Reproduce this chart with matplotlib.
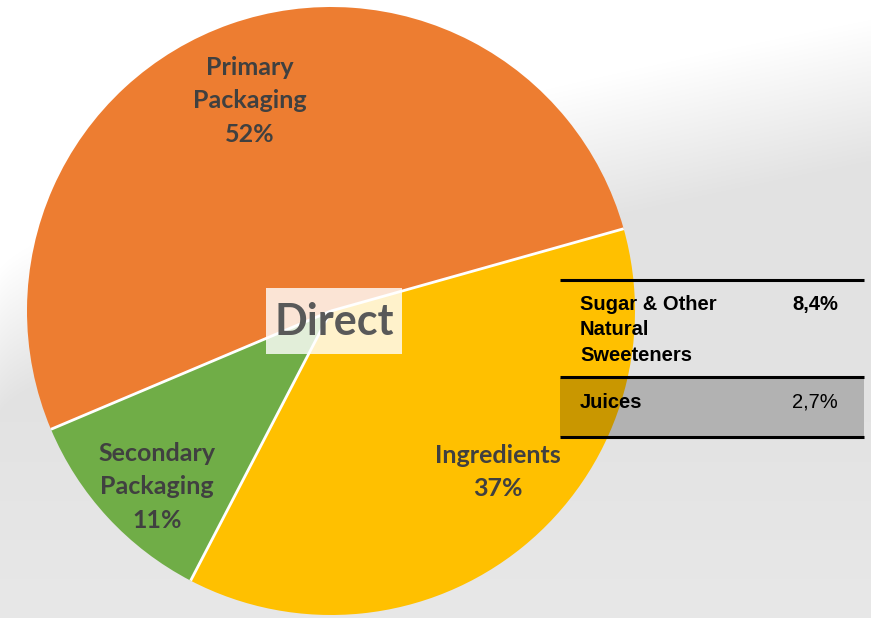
import numpy as np
import matplotlib
matplotlib.use("Agg")
import matplotlib.pyplot as plt
from matplotlib.patches import Rectangle

# pie data
segments = ["Primary\nPackaging", "Secondary\nPackaging", "Ingredients"]
shares = [52, 11, 37]
colors = ["#ED7D31", "#70AD47", "#FFC000"]

# side table
table_items = ["Sugar & Other\nNatural\nSweeteners", "Juices"]
table_values = ["8,4%", "2,7%"]

W, H = 871, 618
fig = plt.figure(figsize=(W / 100, H / 100), dpi=100)
ax = fig.add_axes([0, 0, 1, 1])

# background: white top arc fading into light gray
xx, yy = np.meshgrid(np.arange(W), np.arange(H))
edge = 270 - 250 * (xx / W) ** 0.7
d = yy - edge
bg = 1.0 - 0.11 * np.clip(d / 140, 0, 1)
bg = bg + 0.02 * np.clip((yy - 420) / 200, 0, 1)
ax.imshow(np.dstack([bg, bg, bg]), extent=(0, W, 0, H), origin="upper", zorder=0)

cx, cy, r = 331, H - 311, 304
wedges, _ = ax.pie(shares, colors=colors, startangle=15.7, counterclock=True,
                   center=(cx, cy), radius=r,
                   wedgeprops=dict(linewidth=0))
for w in wedges:
    w.set_zorder(2)
# white separators between slices (no outline on the rim)
for w in wedges:
    a = np.deg2rad(w.theta1)
    ax.plot([cx, cx + r * np.cos(a)], [cy, cy + r * np.sin(a)],
            color="white", lw=2, zorder=3, solid_capstyle="butt")

label_pos = [(250, 101), (157, 487), (498, 472)]
for name, v, (lx, ly) in zip(segments, shares, label_pos):
    ax.text(lx, H - ly, f"{name}\n{v}%", ha="center", va="center",
            fontsize=18, fontweight="bold", family="Lato", color="#404040",
            linespacing=1.55, zorder=5)

# "Direct" box
ax.add_patch(Rectangle((266, H - 354), 136, 66, facecolor="white",
                       alpha=0.8, edgecolor="none", zorder=4))
ax.text(334, H - 322, "Direct", ha="center", va="center", fontsize=31,
        fontweight="bold", family="Lato", color="#595959", zorder=5)

# table
x0, x1 = 560, 864
ax.add_patch(Rectangle((x0, H - 437), x1 - x0, 59, facecolor="black",
                       alpha=0.21, edgecolor="none", zorder=4))
for ly in [280, 377, 437]:
    ax.plot([x0, x1], [H - ly, H - ly], color="black", lw=2.2, zorder=6,
            solid_capstyle="butt")
row_top = [295, 393]
for i, (item, val) in enumerate(zip(table_items, table_values)):
    ax.text(580, H - row_top[i], item, ha="left", va="top", fontsize=14.5,
            fontweight="bold", family="Liberation Sans", color="black",
            linespacing=1.42, zorder=6)
    ax.text(838, H - row_top[i], val, ha="right", va="top", fontsize=14.5,
            fontweight="bold" if i == 0 else "normal",
            family="Liberation Sans", color="black", zorder=6)

ax.set_xlim(0, W)
ax.set_ylim(0, H)
ax.set_aspect("equal")
ax.axis("off")

fig.savefig("out.png", dpi=100)
